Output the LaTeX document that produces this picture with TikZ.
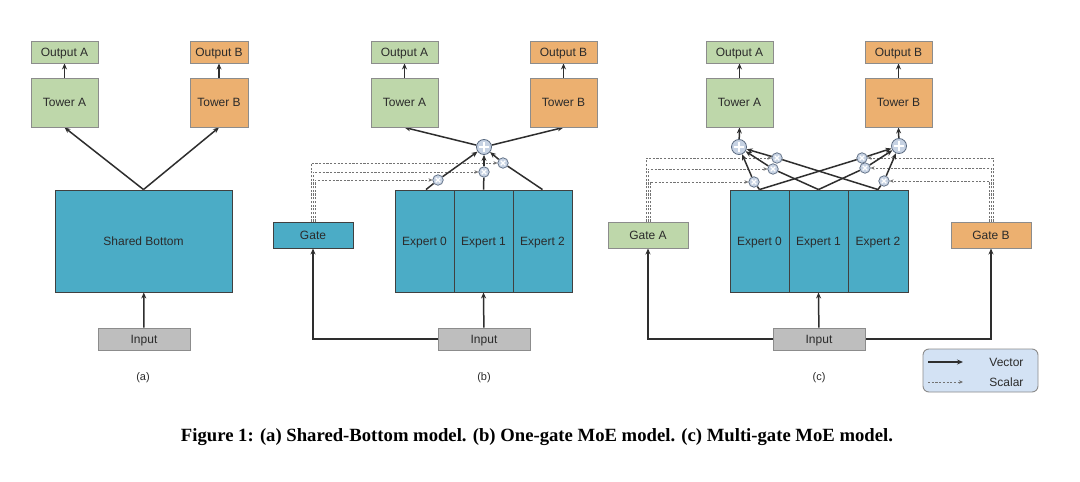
\documentclass[tikz,border=0pt]{standalone}
\usepackage{fontspec}
\setsansfont{Liberation Sans}
\newfontfamily\capfont{Liberation Serif}
\usetikzlibrary{arrows.meta}
\definecolor{teal1}{HTML}{4BACC6}
\definecolor{green1}{HTML}{BED7AA}
\definecolor{orange1}{HTML}{ECB070}
\definecolor{gray1}{HTML}{BEBEBE}
\definecolor{legfill}{HTML}{D3E2F4}
\definecolor{circfill}{HTML}{C6D2E3}
\definecolor{circdraw}{HTML}{5A6A80}
\definecolor{txt}{HTML}{2B2B2B}
\pgfdeclarelayer{back}
\pgfdeclarelayer{bg}
\pgfsetlayers{back,bg,main}
\tikzset{
  lbl/.style={font=\sffamily\fontsize{12}{14}\selectfont, text=txt, text height=8.6pt, text depth=0pt},
  boxg/.style={lbl, draw=black!45, fill=green1, line width=0.9pt, inner sep=0pt},
  boxo/.style={lbl, draw=black!45, fill=orange1, line width=0.9pt, inner sep=0pt},
  boxt/.style={lbl, draw=black!75, fill=teal1, line width=0.9pt, inner sep=0pt},
  boxi/.style={lbl, draw=black!45, fill=gray1, line width=0.9pt, inner sep=0pt},
  conn/.style={draw=black!82, line width=1.5pt},
  arr/.style={conn, -{Stealth[length=6pt,width=5pt]}},
  scal/.style={draw=black!55, line width=0.85pt, dash pattern=on 2.2pt off 1.5pt, -{Stealth[length=4pt,width=3.5pt]}},
  sumc/.style={circle, minimum size=15pt, inner sep=0pt, fill=circfill, draw=circdraw, line width=0.8pt,
    path picture={\draw[white, line width=1.5pt]
      ([yshift=-2.5pt]path picture bounding box.north) -- ([yshift=2.5pt]path picture bounding box.south)
      ([xshift=2.5pt]path picture bounding box.west) -- ([xshift=-2.5pt]path picture bounding box.east);}},
  mulc/.style={circle, minimum size=10.5pt, inner sep=0pt, fill=circfill, draw=circdraw, line width=0.7pt,
    path picture={\draw[white, line width=1.1pt]
      ([shift={(-2.3pt,-2.3pt)}]path picture bounding box.center) -- ([shift={(2.3pt,2.3pt)}]path picture bounding box.center)
      ([shift={(-2.3pt,2.3pt)}]path picture bounding box.center) -- ([shift={(2.3pt,-2.3pt)}]path picture bounding box.center);}},
  sub/.style={font=\sffamily\fontsize{11}{12}\selectfont, text=txt}
}
\begin{document}
\begin{tikzpicture}[x=1pt,y=-1pt]
\useasboundingbox (0,0) rectangle (1080,482);
\begin{pgfonlayer}{back}
\fill[white] (0,0) rectangle (1080,482);
\end{pgfonlayer}

% ---------- (a) ----------
\node[boxg, minimum width=67pt, minimum height=22pt] (aoa) at (64.5,52) {Output A};
\node[boxg, minimum width=67pt, minimum height=49pt] (ata) at (64.5,102.5) {Tower A};
\node[boxo, minimum width=58pt, minimum height=22pt] (aob) at (219,52) {Output B};
\node[boxo, minimum width=58pt, minimum height=49pt] (atb) at (219,102.5) {Tower B};
\node[boxt, minimum width=177pt, minimum height=102pt] (asb) at (143.5,241) {Shared Bottom};
\node[boxi, minimum width=92pt, minimum height=22pt] (ain) at (144,339) {Input};
\node[sub] (alab) at (143,378) {(a)};
\begin{pgfonlayer}{bg}
\draw[arr] (ata) -- (aoa);
\draw[arr] (atb) -- (aob);
\draw[arr] (asb.north) -- (ata.south);
\draw[arr] (asb.north) -- (atb.south);
\draw[arr] (ain) -- (asb);
\end{pgfonlayer}

% ---------- (b) ----------
\node[boxg, minimum width=67pt, minimum height=22pt] (boa) at (404.5,52) {Output A};
\node[boxg, minimum width=67pt, minimum height=49pt] (bta) at (404.5,102.5) {Tower A};
\node[boxo, minimum width=67pt, minimum height=22pt] (bob) at (563.5,52) {Output B};
\node[boxo, minimum width=67pt, minimum height=49pt] (btb) at (563.5,102.5) {Tower B};
\node[boxt, minimum width=59pt, minimum height=102pt] (be0) at (424.5,241) {Expert 0};
\node[boxt, minimum width=59pt, minimum height=102pt] (be1) at (483.5,241) {Expert 1};
\node[boxt, minimum width=59pt, minimum height=102pt] (be2) at (542.5,241) {Expert 2};
\node[boxt, minimum width=80pt, minimum height=26pt] (bg) at (313,235) {Gate};
\node[boxi, minimum width=92pt, minimum height=22pt] (bin) at (484,339) {Input};
\node[sumc] (bs) at (484,147) {};
\node[mulc] (bm0) at (438,180) {};
\node[mulc] (bm1) at (484,172) {};
\node[mulc] (bm2) at (503,163) {};
\node[sub] (blab) at (484,378) {(b)};
\begin{pgfonlayer}{bg}
\draw[scal] ([xshift=-2pt]bg.north) |- (bm2);
\draw[scal] (bg.north) |- (bm1);
\draw[scal] ([xshift=2pt]bg.north) |- (bm0);
\draw[arr] (bta) -- (boa);
\draw[arr] (btb) -- (bob);
\draw[arr] (bs) -- (bta.south);
\draw[arr] (bs) -- (btb.south);
\draw[conn] ([xshift=1.5pt]be0.north) -- (bm0);
\draw[arr] (bm0) -- (bs);
\draw[conn] (be1.north) -- (bm1);
\draw[arr] (bm1) -- (bs);
\draw[conn] (be2.north) -- (bm2);
\draw[arr] (bm2) -- (bs);
\draw[arr] (bin) -- (be1.south);
\draw[arr] (bin.west) -| (bg.south);
\end{pgfonlayer}

% ---------- (c) ----------
\node[boxg, minimum width=67pt, minimum height=22pt] (coa) at (739.5,52) {Output A};
\node[boxg, minimum width=67pt, minimum height=49pt] (cta) at (739.5,102.5) {Tower A};
\node[boxo, minimum width=67pt, minimum height=22pt] (cob) at (898.5,52) {Output B};
\node[boxo, minimum width=67pt, minimum height=49pt] (ctb) at (898.5,102.5) {Tower B};
\node[boxt, minimum width=59pt, minimum height=102pt] (ce0) at (759.5,241) {Expert 0};
\node[boxt, minimum width=59pt, minimum height=102pt] (ce1) at (818.5,241) {Expert 1};
\node[boxt, minimum width=60pt, minimum height=102pt] (ce2) at (878,241) {Expert 2};
\node[boxg, minimum width=80pt, minimum height=26pt] (cga) at (648,235) {Gate A};
\node[boxo, minimum width=80pt, minimum height=26pt] (cgb) at (991,235) {Gate B};
\node[boxi, minimum width=92pt, minimum height=22pt] (cin) at (819,339) {Input};
\node[sumc] (csa) at (739,147) {};
\node[sumc] (csb) at (899,146) {};
\node[mulc] (cma0) at (754,182) {};
\node[mulc] (cma1) at (773,169) {};
\node[mulc] (cma2) at (777,158) {};
\node[mulc] (cmb0) at (862,158) {};
\node[mulc] (cmb1) at (865,168) {};
\node[mulc] (cmb2) at (884,181) {};
\node[sub] (clab) at (819,378) {(c)};
\begin{pgfonlayer}{bg}
\draw[scal] ([xshift=-2pt]cga.north) |- (cma2);
\draw[scal] (cga.north) |- (cma1);
\draw[scal] ([xshift=2pt]cga.north) |- (cma0);
\draw[scal] ([xshift=2pt]cgb.north) |- (cmb0);
\draw[scal] (cgb.north) |- (cmb1);
\draw[scal] ([xshift=-2pt]cgb.north) |- (cmb2);
\draw[arr] (cta) -- (coa);
\draw[arr] (ctb) -- (cob);
\draw[arr] (csa) -- (cta.south);
\draw[arr] (csb) -- (ctb.south);
\draw[conn] (ce0.north) -- (cma0);
\draw[arr] (cma0) -- (csa);
\draw[conn] (ce1.north) -- (cma1);
\draw[arr] (cma1) -- (csa);
\draw[conn] (ce2.north) -- (cma2);
\draw[arr] (cma2) -- (csa);
\draw[conn] (ce0.north) -- (cmb0);
\draw[arr] (cmb0) -- (csb);
\draw[conn] (ce1.north) -- (cmb1);
\draw[arr] (cmb1) -- (csb);
\draw[conn] (ce2.north) -- (cmb2);
\draw[arr] (cmb2) -- (csb);
\draw[arr] (cin) -- (ce1.south);
\draw[arr] (cin.west) -| (cga.south);
\draw[arr] (cin.east) -| (cgb.south);
\end{pgfonlayer}

% ---------- legend ----------
\node[draw=black!45, fill=legfill, rounded corners=6pt, line width=0.9pt, minimum width=115pt, minimum height=43pt] (leg) at (980.5,370.5) {};
\coordinate (lv1) at (928,362);
\coordinate (lv2) at (963,362);
\coordinate (ls1) at (928,382);
\coordinate (ls2) at (963,382);
\draw[arr] (lv1) -- (lv2);
\draw[scal] (ls1) -- (ls2);
\node[lbl, anchor=east] (lvt) at (1027,362) {Vector};
\node[lbl, anchor=east] (lst) at (1027,382) {Scalar};

% ---------- caption ----------
\node[inner sep=0pt] (cap) at (537,437) {\resizebox{712pt}{!}{\capfont\bfseries\fontsize{17}{20}\selectfont Figure 1: (a) Shared-Bottom model. (b) One-gate MoE model. (c) Multi-gate MoE model.}};
\end{tikzpicture}
\end{document}
